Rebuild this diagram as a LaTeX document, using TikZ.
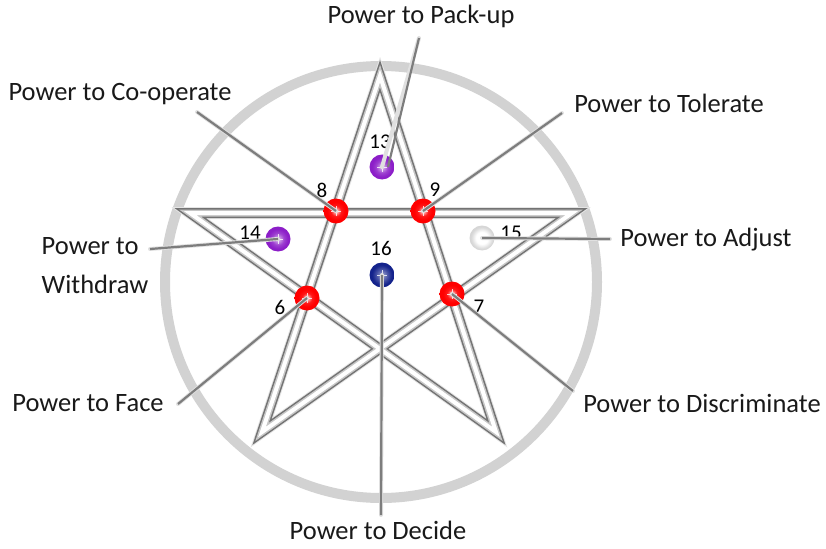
\documentclass[tikz,border=0pt]{standalone}
\usepackage{fontspec}
\setmainfont{Carlito}
\definecolor{orbP}{RGB}{140,30,200}
\definecolor{orbB}{RGB}{20,35,140}
\definecolor{orbG}{RGB}{215,215,215}
\definecolor{ringgray}{RGB}{210,210,210}
\definecolor{leadgray}{RGB}{125,125,125}
\pgfdeclareradialshading{orbred}{\pgfpoint{0bp}{0bp}}{color(0bp)=(white); color(3bp)=(white!70!red); color(10bp)=(red!90!white); color(18bp)=(red); color(42bp)=(red); color(50bp)=(red!85!black)}
\pgfdeclareradialshading{orbpurple}{\pgfpoint{0bp}{0bp}}{color(0bp)=(white); color(3bp)=(white!60!orbP); color(12bp)=(orbP!85!white); color(20bp)=(orbP); color(42bp)=(orbP); color(50bp)=(orbP!85!black)}
\pgfdeclareradialshading{orbblue}{\pgfpoint{0bp}{0bp}}{color(0bp)=(white); color(3bp)=(white!50!orbB); color(12bp)=(orbB!80!white); color(20bp)=(orbB); color(42bp)=(orbB); color(50bp)=(orbB!80!black)}
\pgfdeclareradialshading{orbgray}{\pgfpoint{0bp}{0bp}}{color(0bp)=(white); color(12bp)=(white); color(22bp)=(orbG); color(50bp)=(orbG!92!black)}
\begin{document}
\begin{tikzpicture}[x=1pt,y=-1pt,
  lbl/.style={font=\fontsize{26.5}{39}\selectfont, inner sep=0pt, text=black!90},
  num/.style={font=\fontsize{21}{22}\selectfont, inner sep=0pt, text=black},
  orb/.style={circle, minimum size=25pt, inner sep=0pt,
    path picture={\draw[white, line width=0.5pt, opacity=0.8] ([xshift=-5pt]path picture bounding box.center) -- ([xshift=5pt]path picture bounding box.center);
                  \draw[white, line width=0.5pt, opacity=0.8] ([yshift=-5pt]path picture bounding box.center) -- ([yshift=5pt]path picture bounding box.center);}},
  lead/.style={draw=leadgray, line width=2.2pt},
  leadshadow/.style={draw=black!12, line width=4pt, line cap=round},
  tube/.style={line join=miter, miter limit=20}
]
\useasboundingbox (0,0) rectangle (826,548);

% ring
\draw[ringgray, line width=10pt] (381,282) circle (216);

% star vertices (path centre line; miter tips reach the drawn points)
\coordinate (T) at (380,76);
\coordinate (BL) at (262,432);
\coordinate (R) at (572,213);
\coordinate (L) at (190,213);
\coordinate (BR) at (496,432);

% star shadow
\draw[tube, black!10, line width=12pt, shift={(4,4)}] (T) -- (BL) -- (R) -- (L) -- (BR) -- cycle;
% star tube
\draw[tube, black!55, line width=10pt] (T) -- (BL) -- (R) -- (L) -- (BR) -- cycle;
\draw[tube, black!22, line width=7pt] (T) -- (BL) -- (R) -- (L) -- (BR) -- cycle;
\draw[tube, white, line width=4pt] (T) -- (BL) -- (R) -- (L) -- (BR) -- cycle;

% labels
\node[lbl] (pack) at (421,16) {Power to Pack-up};
\node[lbl] (coop) at (120,94) {Power to Co-operate};
\node[lbl] (tol) at (669,103) {Power to Tolerate};
\node[lbl, align=left] (wd) at (95,266) {Power to\\Withdraw};
\node[lbl] (adj) at (706,240) {Power to Adjust};
\node[lbl] (face) at (88,403) {Power to Face};
\node[lbl] (disc) at (702,403) {Power to Discriminate};
\node[lbl] (dec) at (378,530) {Power to Decide};

% leader start points
\coordinate (pPack) at (419,38);
\coordinate (pCoop) at (197,112);
\coordinate (pTol) at (562,113);
\coordinate (pWd) at (150,249);
\coordinate (pAdj) at (610,239);
\coordinate (pFace) at (178,404);
\coordinate (pDisc) at (573,391);
\coordinate (pDec) at (381,515);

% orbs
\node[orb, shading=orbpurple] (b13) at (382,167) {};
\node[orb, shading=orbred] (b8) at (336,211) {};
\node[orb, shading=orbred] (b9) at (423,211) {};
\node[orb, shading=orbpurple] (b14) at (278,239) {};
\node[orb, shading=orbgray] (b15) at (482,238) {};
\node[orb, shading=orbblue] (b16) at (382,275) {};
\node[orb, shading=orbred] (b6) at (307,298) {};
\node[orb, shading=orbred] (b7) at (452,294) {};

% numbers
\node[num] (n13) at (380,142) {13};
\node[num] (n8) at (322,190) {8};
\node[num] (n9) at (435,190) {9};
\node[num] (n14) at (250,233) {14};
\node[num] (n15) at (511,233) {15};
\node[num] (n16) at (381,248) {16};
\node[num] (n6) at (280,307) {6};
\node[num] (n7) at (479,307) {7};

% leader shadows
\begin{scope}[shift={(4,3)}]
\draw[leadshadow] (pPack) -- (b13.center);
\draw[leadshadow] (pCoop) -- (b8.center);
\draw[leadshadow] (pTol) -- (b9.center);
\draw[leadshadow] (pWd) -- (b14.center);
\draw[leadshadow] (pAdj) -- (b15.center);
\draw[leadshadow] (pFace) -- (b6.center);
\draw[leadshadow] (pDisc) -- (b7.center);
\draw[leadshadow] (pDec) -- (b16.center);
\end{scope}
% leaders
\draw[lead] (pPack) -- ([xshift=6pt]b13.center);
\draw[lead] (pCoop) -- (b8.center);
\draw[lead] (pTol) -- (b9.center);
\draw[lead] (pWd) -- (b14.center);
\draw[lead] (pAdj) -- (b15.center);
\draw[lead] (pFace) -- (b6.center);
\draw[lead] (pDisc) -- (b7.center);
\draw[lead] (pDec) -- (b16.center);
\end{tikzpicture}
\end{document}
